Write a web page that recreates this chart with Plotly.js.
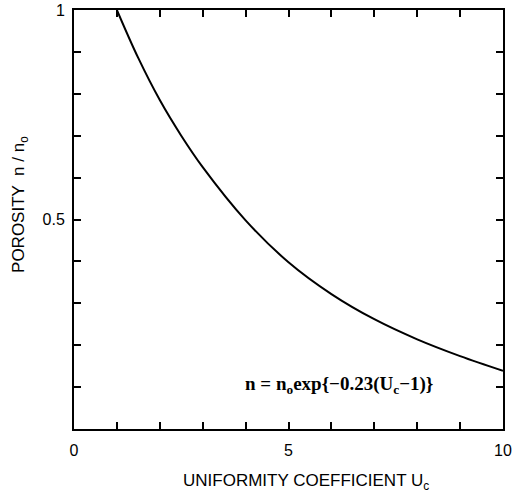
<!DOCTYPE html>
<html>
<head>
<meta charset="utf-8">
<script src="https://cdn.plot.ly/plotly-3.0.1.min.js"></script>
<style>html,body{margin:0;padding:0;background:#fff;}</style>
</head>
<body>
<div id="chart" style="width:522px;height:492px;"></div>
<script>
// Curve (uniformity coefficient vs porosity ratio)
const uc = [1, 1.5, 2, 2.5, 3, 4, 5, 6, 7, 8, 9, 10];
const nRatio = [1.0, 0.885, 0.785, 0.700, 0.625, 0.498, 0.398, 0.322, 0.262, 0.214, 0.174, 0.139];

// Labelled tick positions and labels (minor ticks every 1 and every 0.1)
const xTickVals = [0, 5, 10];
const xTickText = ["0", "5", "10"];
const yTickVals = [0.5, 1.0];
const yTickText = ["0.5", "1"];

const xTitle = "UNIFORMITY COEFFICIENT U<sub>c</sub>";
const yTitle = "POROSITY  n / n<sub>o</sub>";
const formula = "<b>n = n<sub>o</sub>exp{\u22120.23(U<sub>c</sub>\u22121)}</b>";

const trace = {
  x: uc, y: nRatio, type: "scatter", mode: "lines",
  line: {color: "#000", width: 2, shape: "spline", smoothing: 1},
  hoverinfo: "skip"
};

const axisCommon = {
  showline: true, linecolor: "#000", linewidth: 2, mirror: "ticks",
  ticks: "inside", ticklen: 7, tickwidth: 2, tickcolor: "#000",
  showgrid: false, zeroline: false, tickmode: "array",
  tickfont: {family: "Liberation Sans, Arial, sans-serif", size: 16, color: "#000"}
};

const layout = {
  width: 522, height: 492,
  margin: {l: 74, r: 19, t: 10, b: 63},
  paper_bgcolor: "#fff", plot_bgcolor: "#fff",
  showlegend: false,
  xaxis: Object.assign({}, axisCommon, {
    range: [0, 10], tickvals: xTickVals, ticktext: xTickText, ticklabelstandoff: 6,
    minor: {dtick: 1, tick0: 0, ticks: "inside", ticklen: 7, tickwidth: 2, tickcolor: "#000", showgrid: false}
  }),
  yaxis: Object.assign({}, axisCommon, {
    range: [0, 1], tickvals: yTickVals, ticktext: yTickText, ticklabelstandoff: 4,
    minor: {dtick: 0.1, tick0: 0, ticks: "inside", ticklen: 7, tickwidth: 2, tickcolor: "#000", showgrid: false}
  }),
  annotations: [
    {text: xTitle, xref: "paper", yref: "paper", x: 0.541, y: -0.126,
     xanchor: "center", yanchor: "middle", showarrow: false,
     font: {family: "Liberation Sans, Arial, sans-serif", size: 17, color: "#000"}},
    {text: yTitle, xref: "paper", yref: "paper", x: -0.126, y: 0.537,
     xanchor: "center", yanchor: "middle", showarrow: false, textangle: -90,
     font: {family: "Liberation Sans, Arial, sans-serif", size: 17, color: "#000"}},
    {text: formula, xref: "x", yref: "y", x: 6.18, y: 0.105,
     xanchor: "center", yanchor: "middle", showarrow: false,
     font: {family: "Liberation Serif, Times New Roman, serif", size: 19, color: "#000"}}
  ]
};

Plotly.newPlot("chart", [trace], layout, {displayModeBar: false, staticPlot: true});
</script>
</body>
</html>
